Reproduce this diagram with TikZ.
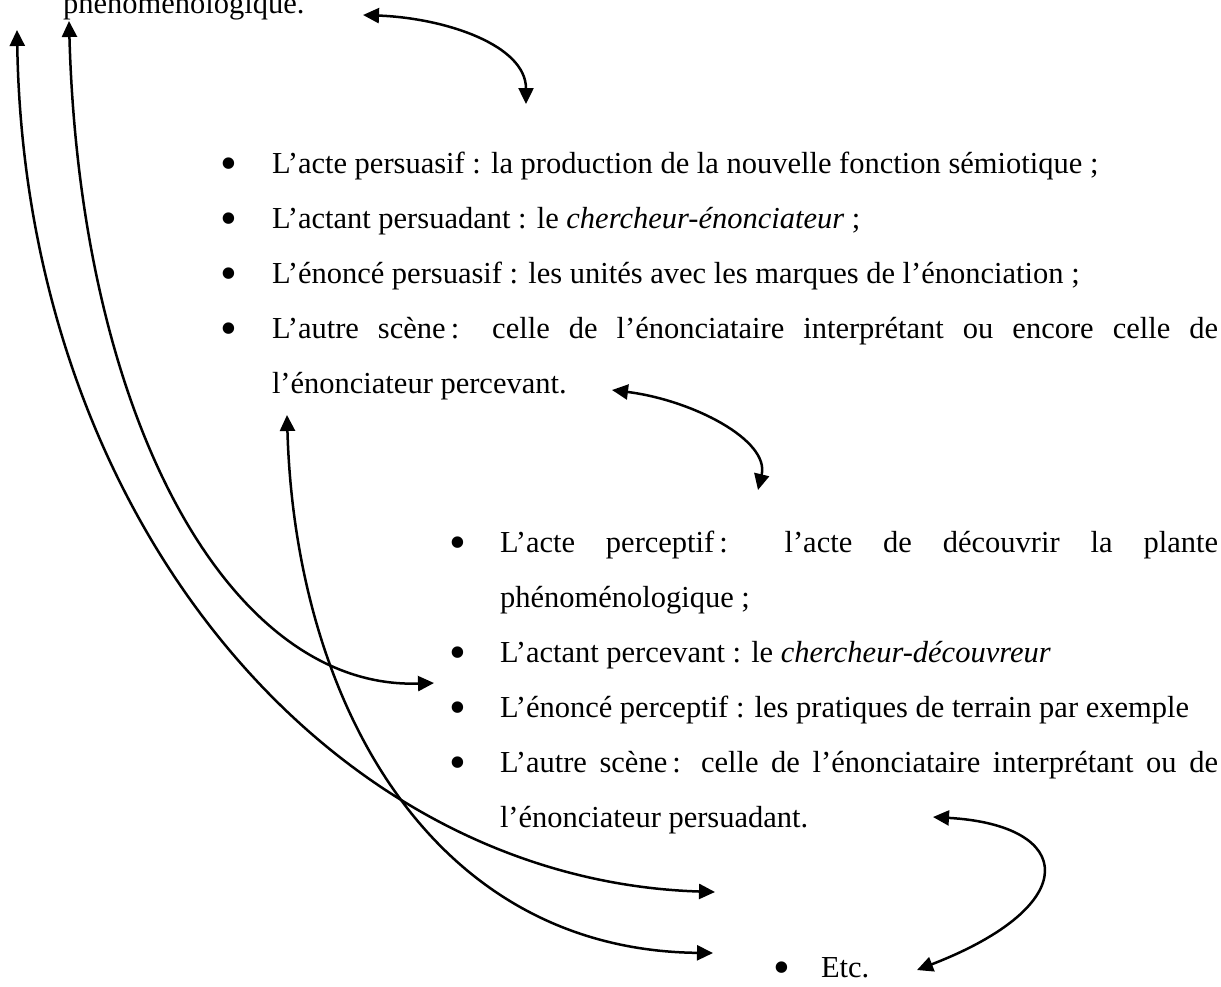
\documentclass[tikz,border=0pt]{standalone}
\usepackage{fontspec}
\setmainfont{Liberation Serif}
\usetikzlibrary{arrows.meta}

\newcommand{\lapuce}{\smash{\textbullet}}

\begin{document}
\begin{tikzpicture}[
    x=1pt, y=-1pt,
    texte/.style  = {font=\fontsize{30.5}{55}\selectfont, anchor=base west,
                     inner sep=0pt, outer sep=0pt},
    puce/.style   = {font=\fontsize{48}{55}\selectfont, anchor=base,
                     inner sep=0pt, outer sep=0pt, yshift=-6pt},
    fleche/.style = {{Triangle[length=16pt,width=15pt]}-{Triangle[length=16pt,width=15pt]},
                     line width=2.5pt},
  ]
  \useasboundingbox (0,0) rectangle (1221,986);

  %-------------------------------------------------- fin du bloc precedent
  \node[texte] (p0) at (63,13) {phénoménologique.};

  %-------------------------------------------------- bloc persuasif
  \node[puce]  (pa1) at (229,173) {\lapuce};
  \node[texte] (a1)  at (272,173) {L’acte persuasif : la production de la nouvelle fonction sémiotique ;};
  \node[puce]  (pa2) at (229,228) {\lapuce};
  \node[texte] (a2)  at (272,228) {L’actant persuadant : le \textit{chercheur-énonciateur} ;};
  \node[puce]  (pa3) at (229,283) {\lapuce};
  \node[texte] (a3)  at (272,283) {L’énoncé persuasif : les unités avec les marques de l’énonciation ;};
  \node[puce]  (pa4) at (229,338) {\lapuce};
  \node[texte] (a4)  at (272,338)
    {\makebox[946pt][s]{L’autre scène\,: celle de l’énonciataire interprétant ou encore celle de}};
  \node[texte] (a5)  at (272,393) {l’énonciateur percevant.};

  %-------------------------------------------------- bloc perceptif
  \node[puce]  (pb1) at (458,552) {\lapuce};
  \node[texte] (b1)  at (500,552)
    {\makebox[718pt][s]{L’acte perceptif\,: l’acte de découvrir la plante}};
  \node[texte] (b2)  at (500,607) {phénoménologique ;};
  \node[puce]  (pb3) at (458,662) {\lapuce};
  \node[texte] (b3)  at (500,662) {L’actant percevant : le \textit{chercheur-découvreur}};
  \node[puce]  (pb4) at (458,717) {\lapuce};
  \node[texte] (b4)  at (500,717) {L’énoncé perceptif : les pratiques de terrain par exemple};
  \node[puce]  (pb5) at (458,772) {\lapuce};
  \node[texte] (b5)  at (500,772)
    {\makebox[718pt][s]{L’autre scène\,: celle de l’énonciataire interprétant ou de}};
  \node[texte] (b6)  at (500,827) {l’énonciateur persuadant.};

  %-------------------------------------------------- etc.
  \node[puce]  (pc1) at (782,977) {\lapuce};
  \node[texte] (c1)  at (821,977) {Etc.};

  %-------------------------------------------------- extremites des fleches
  \coordinate (h1) at (363,15);   \coordinate (h2) at (526,104);
  \coordinate (m1) at (612,390);  \coordinate (m2) at (758,490);
  \coordinate (e1) at (933,817);  \coordinate (e2) at (917,970);
  \coordinate (g1) at (17,30);    \coordinate (g2) at (69,21);
  \coordinate (g3) at (287,415);
  \coordinate (d1) at (715,892);  \coordinate (d2) at (434,683);
  \coordinate (d3) at (713,953);

  %-------------------------------------------------- boucles entre blocs
  \draw[fleche] (h1) .. controls (445,18) and (526,45) .. (h2);
  \draw[fleche] (m1) .. controls (692,400) and (770,440) .. (m2);
  \draw[fleche] (e1) .. controls (1075,825) and (1085,905) .. (e2);

  %-------------------------------------------------- grands arcs
  \draw[fleche] (g2) .. controls (80,420) and (230,690) .. (d2);
  \draw[fleche] (g1) .. controls (25,520) and (330,880) .. (d1);
  \draw[fleche] (g3) .. controls (295,700) and (430,950) .. (d3);
\end{tikzpicture}
\end{document}
